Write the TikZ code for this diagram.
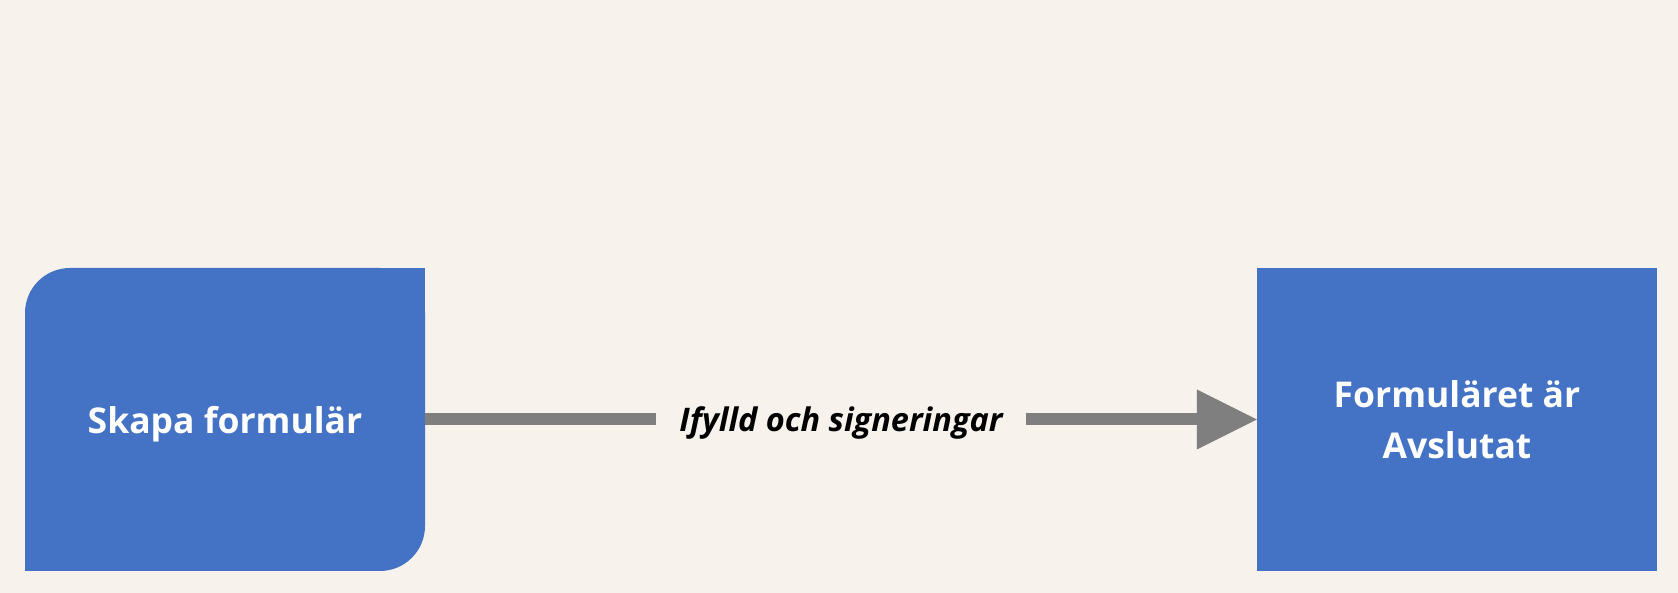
\documentclass[tikz,border=0pt]{standalone}
\usepackage{fontspec}
\setmainfont{Open Sans}
\usetikzlibrary{arrows.meta}
\definecolor{bgc}{HTML}{F7F2EC}
\definecolor{boxblue}{HTML}{4472C4}
\definecolor{arrgray}{HTML}{7F7F7F}
\tikzset{
  stepbox/.style={minimum width=400pt, minimum height=303pt, inner sep=0pt},
  boxtext/.style={anchor=base, text=white, inner sep=0pt,
    font=\bfseries\fontsize{35.5}{51}\selectfont, align=center},
  flowarrow/.style={draw=arrgray, line width=12pt,
    -{Triangle[length=60pt,width=60pt,line width=0pt]}},
  flowlabel/.style={fill=bgc, inner xsep=23pt, inner ysep=9pt,
    font=\bfseries\itshape\fontsize{32.5}{38}\selectfont, text=black}
}
\begin{document}
\begin{tikzpicture}[x=1pt,y=1pt]
\fill[bgc] (0,0) rectangle (1678,593);
\useasboundingbox (0,0) rectangle (1678,593);
% left box with two rounded corners
\fill[boxblue, rounded corners=45pt] (25,22) rectangle (425,325);
\fill[boxblue] (380,280) rectangle (425,325);
\fill[boxblue] (25,22) rectangle (70,67);
\node[stepbox] (start) at (225,173.5) {};
\node[boxtext] (starttext) at (225,159) {Skapa formulär};
% right box
\node[stepbox, fill=boxblue] (end) at (1457,173.5) {};
\node[boxtext] (endtext) at (1457,134) {Formuläret är\\Avslutat};
\draw[flowarrow] (start.east) -- node[flowlabel] (lbl) {\raisebox{-11.8pt}[0pt][0pt]{Ifylld och signeringar}} (end.west);
\end{tikzpicture}
\end{document}
